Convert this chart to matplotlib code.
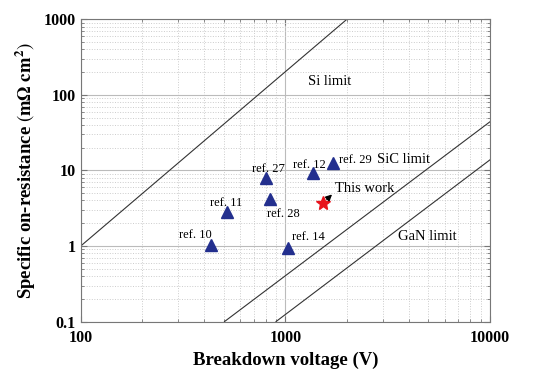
import matplotlib.pyplot as plt
from matplotlib.ticker import LogLocator, NullFormatter, FixedLocator, FixedFormatter

plt.rcParams['font.family'] = ['Liberation Serif', 'DejaVu Serif']
plt.rcParams['mathtext.fontset'] = 'stix'

# Теоретические пределы (конечные точки линий)
si_v = [100, 2000]
si_r = [1, 1000]
sic_v = [504, 10000]
sic_r = [0.1, 44]
gan_v = [900, 10000]
gan_r = [0.1, 13.8]

# Опубликованные устройства
ref_names = ['ref. 10', 'ref. 11', 'ref. 27', 'ref. 28', 'ref. 12', 'ref. 29', 'ref. 14']
ref_v = [431, 520, 804, 841, 1371, 1714, 1026]
ref_r = [1.03, 2.85, 7.9, 4.16, 9.35, 12.5, 0.935]
# смещения подписей в точках
ref_offsets = [(1, 3), (-1, 2), (-10, 2), (-2, -15), (-15, 1.5), (4, -2), (3, 4)]
ref_ha = ['right', 'center', 'left', 'left', 'left', 'left', 'left']

this_v = 1521
this_r = 3.75

xticks = [100, 1000, 10000]
yticks = [0.1, 1, 10, 100, 1000]
ytick_labels = ['0.1', '1', '10', '100', '1000']

fig = plt.figure(figsize=(5.42, 3.77), dpi=100)
ax = fig.add_axes([0.149, 0.147, 0.755, 0.802])

ax.set_xscale('log')
ax.set_yscale('log')
ax.set_xlim(100, 10000)
ax.set_ylim(0.1, 1000)

# Сетка
ax.grid(True, which='major', color='#bbbbbb', linestyle='-', linewidth=0.8)
ax.grid(True, which='minor', color='#cccccc', linestyle=':', linewidth=0.7)
ax.set_axisbelow(True)

# Линии пределов
for v, r in [(si_v, si_r), (sic_v, sic_r), (gan_v, gan_r)]:
    ax.plot(v, r, color='#333333', linewidth=0.8)

ax.text(1652, 148, 'Si limit', fontsize=10.5, ha='center', va='center')
ax.text(3800, 13.8, 'SiC limit', fontsize=10.5, ha='center', va='center')
ax.text(4920, 1.32, 'GaN limit', fontsize=10.5, ha='center', va='center')

# Точки
ax.plot(ref_v, ref_r, linestyle='none', marker='^', markersize=9,
        color='#232f8e')
for name, v, r, off, ha in zip(ref_names, ref_v, ref_r, ref_offsets, ref_ha):
    ax.annotate(name, (v, r), xytext=off, textcoords='offset points',
                fontsize=9, ha=ha, va='bottom')

ax.plot([this_v], [this_r], linestyle='none', marker='*', markersize=10,
        color='#e8141c')
ax.annotate('', xy=(1730, 5.1), xytext=(1560, 3.9),
            arrowprops=dict(arrowstyle='-|>', color='black', lw=1.0,
                            mutation_scale=9))
ax.text(1740, 5.8, 'This work', fontsize=10.5, ha='left', va='center')

# Оси
ax.xaxis.set_major_locator(FixedLocator(xticks))
ax.xaxis.set_major_formatter(FixedFormatter([str(t) for t in xticks]))
ax.xaxis.set_minor_locator(LogLocator(base=10, subs=range(2, 10)))
ax.xaxis.set_minor_formatter(NullFormatter())
ax.yaxis.set_major_locator(FixedLocator(yticks))
ax.yaxis.set_major_formatter(FixedFormatter(ytick_labels))
ax.yaxis.set_minor_locator(LogLocator(base=10, subs=range(2, 10)))
ax.yaxis.set_minor_formatter(NullFormatter())

ax.tick_params(which='both', direction='in', top=True, right=True,
               colors='#777777', labelcolor='black')
ax.tick_params(which='major', length=4)
ax.tick_params(which='minor', length=2.5)
ax.tick_params(axis='x', which='major', pad=6)
for lab in ax.get_xticklabels() + ax.get_yticklabels():
    lab.set_fontweight('bold')
    lab.set_fontsize(11.5)
for s in ax.spines.values():
    s.set_color('#777777')
    s.set_linewidth(0.8)

ax.set_xlabel('Breakdown voltage (V)', fontsize=13.5, fontweight='bold')
ax.set_ylabel(r'Specific on-resistance $\left(\mathbf{m\Omega\ cm^{2}}\right)$',
              fontsize=13.5, fontweight='bold')

fig.savefig('out.png', dpi=100)
